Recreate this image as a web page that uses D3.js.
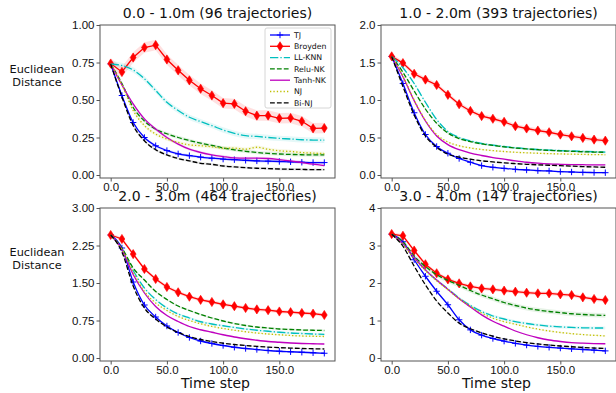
<!DOCTYPE html>
<html>
<head>
<meta charset="utf-8">
<script src="https://cdn.jsdelivr.net/npm/d3@7"></script>
<style>
  body { margin: 0; background: #fff; }
  svg { font-family: "DejaVu Sans", sans-serif; }
</style>
</head>
<body>
<svg id="chart" width="616" height="393"></svg>
<script>
// time steps shared by every panel
const steps = [0, 10, 20, 30, 40, 50, 60, 70, 80, 90, 100, 110, 120, 130, 140, 150, 160, 170, 180, 190];
const seriesNames = ['TJ', 'Broyden', 'LL-KNN', 'Relu-NK', 'Tanh-NK', 'NJ', 'Bi-NJ'];
const panelTitles = ['0.0 - 1.0m (96 trajectories)', '1.0 - 2.0m (393 trajectories)',
  '2.0 - 3.0m (464 trajectories)', '3.0 - 4.0m (147 trajectories)'];
const xTicks = [0, 50, 100, 150];
const yTicks01 = [0, 0.25, 0.5, 0.75, 1.0];
const yTicks12 = [0, 0.5, 1.0, 1.5, 2.0];
const yTicks23 = [0, 0.75, 1.5, 2.25, 3.0];
const yTicks34 = [0, 1, 2, 3, 4];

// 0.0 - 1.0m
const tj01 = [0.74, 0.53, 0.35, 0.25, 0.195, 0.163, 0.141, 0.129, 0.119, 0.112, 0.106, 0.102, 0.098, 0.094, 0.092, 0.09, 0.088, 0.085, 0.083, 0.083];
const broyden01 = [0.743, 0.687, 0.783, 0.85, 0.866, 0.77, 0.698, 0.631, 0.575, 0.53, 0.479, 0.474, 0.425, 0.396, 0.396, 0.378, 0.38, 0.358, 0.311, 0.313];
const llknn01 = [0.74, 0.73, 0.7, 0.642, 0.564, 0.485, 0.43, 0.385, 0.356, 0.329, 0.3, 0.277, 0.262, 0.257, 0.25, 0.244, 0.24, 0.235, 0.233, 0.232];
const relu01 = [0.74, 0.61, 0.45, 0.36, 0.305, 0.275, 0.25, 0.23, 0.212, 0.197, 0.18, 0.168, 0.158, 0.15, 0.144, 0.14, 0.137, 0.135, 0.134, 0.134];
const tanh01 = [0.74, 0.6, 0.474, 0.374, 0.307, 0.25, 0.206, 0.172, 0.15, 0.134, 0.123, 0.114, 0.112, 0.112, 0.11, 0.103, 0.094, 0.083, 0.072, 0.063];
const nj01 = [0.74, 0.6, 0.43, 0.33, 0.273, 0.24, 0.217, 0.201, 0.195, 0.188, 0.179, 0.179, 0.172, 0.185, 0.172, 0.161, 0.157, 0.15, 0.146, 0.143];
const binj01 = [0.74, 0.52, 0.33, 0.228, 0.168, 0.134, 0.11, 0.094, 0.078, 0.071, 0.06, 0.054, 0.049, 0.045, 0.043, 0.04, 0.038, 0.037, 0.036, 0.036];
const band01 = [0.01, 0.035, 0.018, 0.012, 0.01, 0.012, 0.008];

// 1.0 - 2.0m
const tj12 = [1.58, 1.22, 0.83, 0.54, 0.38, 0.29, 0.22, 0.17, 0.125, 0.103, 0.089, 0.076, 0.067, 0.058, 0.054, 0.045, 0.04, 0.035, 0.033, 0.031];
const broyden12 = [1.582, 1.492, 1.349, 1.272, 1.2, 1.069, 0.944, 0.854, 0.786, 0.75, 0.709, 0.651, 0.62, 0.593, 0.57, 0.539, 0.516, 0.494, 0.472, 0.458];
const llknn12 = [1.58, 1.43, 1.22, 0.97, 0.74, 0.58, 0.5, 0.455, 0.42, 0.398, 0.38, 0.363, 0.35, 0.34, 0.333, 0.326, 0.32, 0.315, 0.31, 0.305];
const relu12 = [1.58, 1.37, 1.12, 0.88, 0.69, 0.56, 0.485, 0.445, 0.415, 0.395, 0.375, 0.36, 0.347, 0.337, 0.328, 0.322, 0.316, 0.31, 0.306, 0.303];
const tanh12 = [1.58, 1.31, 0.99, 0.72, 0.52, 0.405, 0.337, 0.292, 0.26, 0.233, 0.211, 0.189, 0.17, 0.157, 0.148, 0.143, 0.139, 0.137, 0.135, 0.135];
const nj12 = [1.58, 1.32, 1.0, 0.73, 0.54, 0.44, 0.39, 0.36, 0.34, 0.325, 0.313, 0.303, 0.296, 0.29, 0.285, 0.281, 0.278, 0.275, 0.272, 0.27];
const binj12 = [1.58, 1.18, 0.8, 0.52, 0.37, 0.278, 0.238, 0.211, 0.189, 0.175, 0.162, 0.152, 0.143, 0.136, 0.13, 0.125, 0.118, 0.112, 0.107, 0.103];
const band12 = [0.012, 0.03, 0.015, 0.012, 0.01, 0.01, 0.01];

// 2.0 - 3.0m
const tj23 = [2.46, 2.2, 1.52, 1.06, 0.82, 0.64, 0.51, 0.41, 0.34, 0.29, 0.25, 0.215, 0.19, 0.17, 0.15, 0.135, 0.125, 0.115, 0.105, 0.095];
const broyden23 = [2.46, 2.38, 2.078, 1.78, 1.58, 1.42, 1.314, 1.226, 1.163, 1.12, 1.073, 1.036, 1.0, 0.972, 0.956, 0.93, 0.916, 0.9, 0.886, 0.86];
const llknn23 = [2.46, 2.18, 1.75, 1.4, 1.17, 1.0, 0.88, 0.8, 0.725, 0.68, 0.645, 0.61, 0.58, 0.555, 0.535, 0.515, 0.5, 0.49, 0.48, 0.472];
const relu23 = [2.46, 2.2, 1.8, 1.56, 1.33, 1.17, 1.04, 0.95, 0.87, 0.8, 0.74, 0.69, 0.65, 0.62, 0.6, 0.58, 0.57, 0.56, 0.555, 0.55];
const tanh23 = [2.46, 2.17, 1.67, 1.3, 1.03, 0.85, 0.73, 0.63, 0.565, 0.515, 0.465, 0.42, 0.385, 0.355, 0.33, 0.315, 0.3, 0.29, 0.285, 0.28];
const nj23 = [2.46, 2.17, 1.72, 1.33, 1.1, 0.95, 0.83, 0.75, 0.685, 0.632, 0.59, 0.555, 0.525, 0.5, 0.48, 0.465, 0.45, 0.44, 0.435, 0.43];
const binj23 = [2.46, 2.12, 1.44, 1.0, 0.78, 0.62, 0.51, 0.43, 0.37, 0.33, 0.295, 0.27, 0.25, 0.232, 0.218, 0.207, 0.198, 0.19, 0.185, 0.18];
const band23 = [0.015, 0.035, 0.025, 0.02, 0.015, 0.015, 0.012];

// 3.0 - 4.0m
const tj34 = [3.3, 3.1, 2.62, 2.18, 1.78, 1.42, 1.02, 0.75, 0.61, 0.52, 0.45, 0.39, 0.345, 0.31, 0.285, 0.265, 0.245, 0.227, 0.21, 0.19];
const broyden34 = [3.306, 3.26, 2.866, 2.5, 2.26, 2.095, 1.99, 1.908, 1.855, 1.83, 1.797, 1.768, 1.741, 1.723, 1.723, 1.697, 1.678, 1.617, 1.573, 1.546];
const llknn34 = [3.3, 3.05, 2.7, 2.35, 2.08, 1.84, 1.6, 1.4, 1.24, 1.12, 1.04, 0.97, 0.92, 0.88, 0.85, 0.83, 0.815, 0.805, 0.8, 0.8];
const relu34 = [3.3, 3.1, 2.72, 2.44, 2.22, 2.07, 1.94, 1.8, 1.68, 1.58, 1.48, 1.4, 1.33, 1.28, 1.24, 1.21, 1.18, 1.16, 1.145, 1.135];
const tanh34 = [3.3, 3.05, 2.68, 2.35, 2.08, 1.83, 1.58, 1.36, 1.15, 0.98, 0.85, 0.72, 0.62, 0.54, 0.48, 0.44, 0.41, 0.395, 0.385, 0.38];
const nj34 = [3.3, 3.02, 2.65, 2.33, 2.06, 1.82, 1.58, 1.38, 1.2, 1.06, 0.97, 0.9, 0.83, 0.77, 0.72, 0.68, 0.65, 0.625, 0.605, 0.59];
const binj34 = [3.3, 2.98, 2.45, 1.95, 1.52, 1.2, 0.93, 0.78, 0.67, 0.58, 0.51, 0.455, 0.41, 0.375, 0.345, 0.32, 0.3, 0.28, 0.265, 0.255];
const band34 = [0.02, 0.05, 0.04, 0.06, 0.02, 0.02, 0.02];

// styles, one per series
const styles = [
  { color: '#0000ff', dash: null, marker: 'plus', curve: d3.curveMonotoneX },
  { color: '#ff0000', dash: null, marker: 'diamond', curve: d3.curveLinear },
  { color: '#00bfbf', dash: '8.3,2.1,1.3,2.1', marker: null, curve: d3.curveMonotoneX },
  { color: '#008000', dash: '4.8,2.1', marker: null, curve: d3.curveMonotoneX },
  { color: '#bf00bf', dash: null, marker: null, curve: d3.curveMonotoneX },
  { color: '#bfbf00', dash: '1.3,2.1', marker: null, curve: d3.curveMonotoneX },
  { color: '#000000', dash: '4.8,2.1', marker: null, curve: d3.curveMonotoneX }
];

const panels = [
  { title: panelTitles[0], yTicks: yTicks01, fmt: '.2f', values: [tj01, broyden01, llknn01, relu01, tanh01, nj01, binj01], band: band01, left: 100, top: 25, ylabel: true, xlabel: false, legend: true },
  { title: panelTitles[1], yTicks: yTicks12, fmt: '.1f', values: [tj12, broyden12, llknn12, relu12, tanh12, nj12, binj12], band: band12, left: 381, top: 25, ylabel: false, xlabel: false, legend: false },
  { title: panelTitles[2], yTicks: yTicks23, fmt: '.2f', values: [tj23, broyden23, llknn23, relu23, tanh23, nj23, binj23], band: band23, left: 100, top: 208, ylabel: true, xlabel: true, legend: false },
  { title: panelTitles[3], yTicks: yTicks34, fmt: 'd', values: [tj34, broyden34, llknn34, relu34, tanh34, nj34, binj34], band: band34, left: 381, top: 208, ylabel: false, xlabel: true, legend: false }
];

const W = 235, H = 153;
const svg = d3.select('#chart');
const spine = '#555';

function drawMarker(g, kind, color) {
  if (kind === 'plus') {
    g.append('path').attr('d', 'M-3.2,0H3.2M0,-3.2V3.2')
      .attr('stroke', color).attr('stroke-width', 1).attr('fill', 'none');
  } else if (kind === 'diamond') {
    g.append('path').attr('d', 'M0,-4.6L2.9,0L0,4.6L-2.9,0Z')
      .attr('fill', color).attr('stroke', color).attr('stroke-width', 0.6);
  }
}

panels.forEach(p => {
  const g = svg.append('g').attr('transform', `translate(${p.left},${p.top})`);
  const yMax = p.yTicks[p.yTicks.length - 1];

  const x = d3.scaleLinear().domain([-9.5, 199.5]).range([0, W]);
  const y = d3.scaleLinear().domain([0, yMax]).range([H - 3, 0]);

  g.append('clipPath').attr('id', 'clip' + p.left + p.top)
    .append('rect').attr('width', W).attr('height', H);
  const plot = g.append('g').attr('clip-path', `url(#clip${p.left}${p.top})`);

  // shaded bands
  p.values.forEach((vals, i) => {
    const st = styles[i];
    const area = d3.area()
      .x((d, j) => x(steps[j]))
      .y0(d => y(d - p.band[i]))
      .y1(d => y(d + p.band[i]))
      .curve(st.curve);
    plot.append('path').datum(vals)
      .attr('d', area)
      .attr('fill', st.color)
      .attr('fill-opacity', i === 1 ? 0.12 : 0.1);
  });

  // lines and markers
  p.values.forEach((vals, i) => {
    const st = styles[i];
    const line = d3.line()
      .x((d, j) => x(steps[j]))
      .y(d => y(d))
      .curve(st.curve);
    plot.append('path').datum(vals)
      .attr('d', line)
      .attr('fill', 'none')
      .attr('stroke', st.color)
      .attr('stroke-width', 1.3)
      .attr('stroke-dasharray', st.dash);
    if (st.marker) {
      vals.forEach((v, j) => {
        const mg = plot.append('g').attr('transform', `translate(${x(steps[j])},${y(v)})`);
        drawMarker(mg, st.marker, st.color);
      });
    }
  });

  // axes
  const yAxis = d3.axisLeft(y).tickValues(p.yTicks).tickFormat(d3.format(p.fmt)).tickSize(3.5).tickPadding(2);
  const xAxis = d3.axisBottom(x).tickValues(xTicks).tickFormat(d3.format('.1f')).tickSize(3.5).tickPadding(1.5);

  const ya = g.append('g').call(yAxis);
  const xa = g.append('g').attr('transform', `translate(0,${H})`).call(xAxis);
  [ya, xa].forEach(a => {
    a.select('.domain').remove();
    a.selectAll('.tick line').attr('stroke', spine);
    a.selectAll('.tick text').attr('fill', '#111').style('font-size', '11.5px');
  });

  // frame
  g.append('rect').attr('width', W).attr('height', H)
    .attr('fill', 'none').attr('stroke', spine).attr('stroke-width', 1);

  g.append('text')
    .attr('x', W / 2).attr('y', -7)
    .attr('text-anchor', 'middle')
    .style('font-size', '14px')
    .attr('fill', '#111')
    .text(p.title);

  if (p.ylabel) {
    const t = g.append('text').attr('text-anchor', 'middle').style('font-size', '11.3px').attr('fill', '#111');
    t.append('tspan').attr('x', -63).attr('y', 48).text('Euclidean');
    t.append('tspan').attr('x', -63).attr('y', 61).text('Distance');
  }
  if (p.xlabel) {
    g.append('text')
      .attr('x', W / 2 - 2).attr('y', H + 27)
      .attr('text-anchor', 'middle')
      .style('font-size', '14px')
      .attr('fill', '#111')
      .text('Time step');
  }

  if (p.legend) {
    const lg = g.append('g').attr('transform', 'translate(165,3)');
    lg.append('rect')
      .attr('width', 66).attr('height', 80).attr('rx', 2)
      .attr('fill', '#fff').attr('fill-opacity', 0.85)
      .attr('stroke', '#ccc').attr('stroke-width', 0.8);
    seriesNames.forEach((name, i) => {
      const st = styles[i];
      const row = lg.append('g').attr('transform', `translate(0,${7 + i * 11.3})`);
      row.append('line')
        .attr('x1', 5).attr('x2', 25)
        .attr('stroke', st.color).attr('stroke-width', 1.3)
        .attr('stroke-dasharray', st.dash);
      if (st.marker) {
        const mg = row.append('g').attr('transform', 'translate(15,0)');
        drawMarker(mg, st.marker, st.color);
      }
      row.append('text')
        .attr('x', 29).attr('y', 0).attr('dy', '0.35em')
        .style('font-size', '7.8px')
        .attr('fill', '#111')
        .text(name);
    });
  }
});
</script>
</body>
</html>
